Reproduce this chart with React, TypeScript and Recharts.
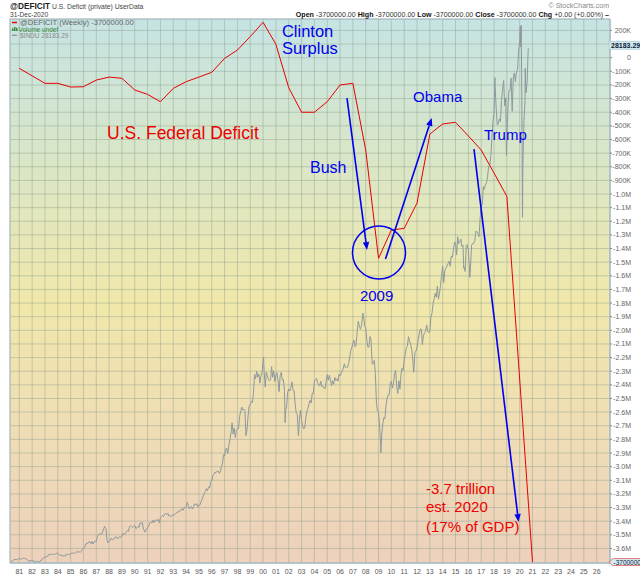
import React from 'react';
import {
  LineChart,
  Line,
  XAxis,
  YAxis,
  CartesianGrid,
  ReferenceLine,
  ReferenceDot,
  ReferenceArea,
} from 'recharts';

const FONT = '"Liberation Sans", Arial, sans-serif';
const BLUE = '#0000ee';
const RED = '#ee0000';

const X_MIN = 1980.275;
const X_MAX = 2027.04;
const Y_MIN = -3707000;
const Y_MAX = 284000;
const DOW_MIN = 750;
const DOW_MAX = 29740;

// x-axis ticks (years)
const yearTicks = [
  1981, 1982, 1983, 1984, 1985, 1986, 1987, 1988, 1989, 1990, 1991, 1992, 1993, 1994, 1995, 1996,
  1997, 1998, 1999, 2000, 2001, 2002, 2003, 2004, 2005, 2006, 2007, 2008, 2009, 2010, 2011, 2012,
  2013, 2014, 2015, 2016, 2017, 2018, 2019, 2020, 2021, 2022, 2023, 2024, 2025, 2026,
];

// right axis ticks every 100K
const deficitTicks = Array.from({ length: 39 }, (_, i) => 200000 - i * 100000);

// @DEFICIT annual values (millions $)
const deficitYears = [
  1981, 1982, 1983, 1984, 1985, 1986, 1987, 1988, 1989, 1990, 1991, 1992, 1993, 1994, 1995, 1996,
  1997, 1998, 1999, 2000, 2001, 2002, 2003, 2004, 2005, 2006, 2007, 2008, 2009, 2010, 2011, 2012,
  2013, 2014, 2015, 2016, 2017, 2018, 2019, 2021,
];
const deficitValues = [
  -78000, -133000, -188000, -188000, -215000, -213000, -164000, -142000, -151000, -237000, -269000,
  -323000, -225000, -176000, -142000, -107000, -5000, 56000, 155000, 260000, 98000, -220000,
  -400000, -400000, -323000, -200000, -188000, -677000, -1472000, -1264000, -1252000, -1066000,
  -560000, -486000, -474000, -574000, -677000, -846000, -1017000, -3700000,
];

// $INDU monthly closes
const dow1980s = [
  817, 851, 868, 935, 933, 932, 925, 993, 964,
  947, 974, 1004, 998, 992, 977, 952, 882, 850, 853, 889, 875,
  871, 824, 823, 848, 820, 812, 809, 901, 896, 992, 1039, 1047,
  1076, 1113, 1130, 1226, 1200, 1222, 1199, 1216, 1233, 1225, 1276, 1259,
  1220, 1155, 1165, 1171, 1105, 1132, 1115, 1224, 1207, 1207, 1189, 1212,
  1287, 1284, 1267, 1258, 1315, 1336, 1348, 1334, 1329, 1374, 1472, 1547,
  1571, 1709, 1819, 1784, 1877, 1893, 1775, 1898, 1768, 1878, 1914, 1896,
  2158, 2224, 2305, 2286, 2292, 2419, 2572, 2663, 2596, 1994, 1834, 1939,
  1958, 2072, 1989, 2032, 2031, 2142, 2129, 2032, 2113, 2149, 2115, 2169,
  2342, 2258, 2294, 2419, 2480, 2440, 2661, 2737, 2693, 2645, 2706, 2753,
];
const dow1990s = [
  2591, 2627, 2707, 2657, 2877, 2881, 2905, 2614, 2453, 2442, 2560, 2634,
  2736, 2882, 2914, 2888, 3028, 2907, 3025, 3044, 3017, 3069, 2895, 3169,
  3223, 3267, 3236, 3359, 3397, 3319, 3394, 3257, 3272, 3226, 3306, 3301,
  3310, 3371, 3435, 3428, 3527, 3516, 3540, 3651, 3555, 3681, 3684, 3754,
  3978, 3832, 3636, 3682, 3758, 3625, 3765, 3913, 3843, 3908, 3739, 3834,
  3844, 4011, 4158, 4321, 4465, 4556, 4709, 4611, 4789, 4756, 5075, 5117,
  5395, 5486, 5588, 5569, 5643, 5655, 5529, 5616, 5882, 6029, 6522, 6448,
  6813, 6877, 6584, 7009, 7331, 7673, 8223, 7622, 7945, 7442, 7823, 7908,
  7907, 8546, 8800, 9063, 8900, 8952, 8883, 7539, 7843, 8592, 9117, 9181,
  9359, 9307, 9786, 10789, 10560, 10971, 10655, 10829, 10337, 10730, 10878, 11497,
];
const dow2000s = [
  10941, 10128, 10922, 10734, 10522, 10448, 10522, 11215, 10651, 10971, 10415, 10787,
  10887, 10495, 9879, 10735, 10912, 10502, 10523, 9950, 8848, 9075, 9852, 10022,
  9920, 10106, 10404, 9946, 9925, 9243, 8737, 8664, 7592, 8397, 8896, 8342,
  8054, 7891, 7992, 8480, 8850, 8985, 9234, 9416, 9275, 9801, 9782, 10454,
  10488, 10584, 10358, 10226, 10188, 10435, 10140, 10174, 10080, 10027, 10428, 10783,
  10490, 10766, 10504, 10193, 10467, 10275, 10641, 10482, 10569, 10440, 10806, 10718,
  10865, 10993, 11109, 11367, 11168, 11150, 11186, 11381, 11679, 12081, 12222, 12463,
  12622, 12269, 12354, 13063, 13628, 13409, 13212, 13358, 13896, 13930, 13372, 13265,
  12650, 12266, 12263, 12820, 12638, 11350, 11378, 11544, 10851, 9325, 8829, 8776,
  8001, 7063, 7609, 8168, 8500, 8447, 9172, 9496, 9712, 9713, 10345, 10428,
];
const dow2010s = [
  10067, 10325, 10857, 11009, 10137, 9774, 10466, 10015, 10788, 11118, 11006, 11578,
  11892, 12226, 12320, 12811, 12570, 12414, 12143, 11614, 10913, 11955, 12046, 12218,
  12633, 12952, 13212, 13214, 12393, 12880, 13009, 13091, 13437, 13096, 13026, 13104,
  13861, 14054, 14579, 14840, 15116, 14910, 15500, 14810, 15130, 15546, 16086, 16577,
  15699, 16322, 16458, 16581, 16717, 16827, 16563, 17098, 17043, 17391, 17828, 17823,
  17165, 18133, 17776, 17841, 18011, 17620, 17690, 16528, 16285, 17664, 17720, 17425,
  16466, 16517, 17685, 17774, 17787, 17930, 18432, 18401, 18308, 18142, 19124, 19763,
  19864, 20812, 20663, 20941, 21009, 21350, 21891, 21948, 22405, 23377, 24272, 24719,
  26149, 25029, 24103, 24163, 24416, 24271, 25415, 25965, 26458, 25116, 25538, 23327,
  24999, 25916, 25929, 26593, 24815, 26600, 26864, 26403, 26917, 27046, 28051, 28538,
];
const dow2020 = [28256, 25409, 21917, 24346, 25383, 25813, 26428, 28183.29];

// weekly extremes visible in the picture
const dowExtremeDates = [
  1987.65, 1990.78, 2000.04, 2001.72, 2002.76, 2007.78, 2009.18, 2011.74, 2015.64, 2016.11,
  2018.07, 2018.97, 2020.045, 2020.12, 2020.22, 2020.43,
];
const dowExtremeValues = [
  2709, 2398, 11723, 8236, 7528, 14066, 6627, 10913, 16460, 15974, 26616, 22445, 29348, 29398,
  19174, 27111,
];

const monthly = (startYear: number, startMonth: number, values: number[]) =>
  values.map((v, i) => ({ x: startYear + (startMonth + i + 1) / 12, v }));

const dowData = [
  ...monthly(1980, 3, dow1980s),
  ...monthly(1990, 0, dow1990s),
  ...monthly(2000, 0, dow2000s),
  ...monthly(2010, 0, dow2010s),
  ...monthly(2020, 0, dow2020),
  ...dowExtremeDates.map((x, i) => ({ x, v: dowExtremeValues[i] })),
].sort((a, b) => a.x - b.x);

const deficitData = deficitYears.map((x, i) => ({ x, v: deficitValues[i] }));

// annotations (data coordinates)
const notes = [
  { x: 2001.47, y: 196000, text: 'Clinton', color: BLUE, size: 16.5 },
  { x: 2001.47, y: 71000, text: 'Surplus', color: BLUE, size: 16.5 },
  { x: 2011.69, y: -281000, text: 'Obama', color: BLUE, size: 15 },
  { x: 2017.22, y: -567000, text: 'Trump', color: BLUE, size: 15 },
  { x: 2003.66, y: -809000, text: 'Bush', color: BLUE, size: 16 },
  { x: 2007.55, y: -1748000, text: '2009', color: BLUE, size: 15 },
  { x: 1987.84, y: -552000, text: 'U.S. Federal Deficit', color: RED, size: 17.5 },
  { x: 2012.7, y: -3157000, text: '-3.7 trillion', color: RED, size: 15 },
  { x: 2012.7, y: -3296000, text: 'est. 2020', color: RED, size: 15 },
  { x: 2012.7, y: -3436000, text: '(17% of GDP)', color: RED, size: 15 },
];

const arrows = [
  { x1: 2006.54, y1: -296000, x2: 2008.1, y2: -1411000 },
  { x1: 2009.54, y1: -1477000, x2: 2013.145, y2: -442000 },
  { x1: 2016.44, y1: -670000, x2: 2019.91, y2: -3406000 },
];

const fmtDeficit = (v: number) => {
  if (v === 0) return '0';
  if (v === 100000) return '';
  if (Math.abs(v) < 1000000) return `${v / 1000}K`;
  return `${(v / 1000000).toFixed(1)}M`;
};

const ArrowShape = (props: any) => {
  const x1 = Number(props.x1);
  const y1 = Number(props.y1);
  const x2 = Number(props.x2);
  const y2 = Number(props.y2);
  const ang = Math.atan2(y2 - y1, x2 - x1);
  const L = 8;
  const W = 3.2;
  const bx = x2 - L * Math.cos(ang);
  const by = y2 - L * Math.sin(ang);
  const px = -Math.sin(ang) * W;
  const py = Math.cos(ang) * W;
  return (
    <g>
      <line x1={x1} y1={y1} x2={bx} y2={by} stroke={BLUE} strokeWidth={1.6} />
      <polygon points={`${x2},${y2} ${bx + px},${by + py} ${bx - px},${by - py}`} fill={BLUE} />
    </g>
  );
};

const XTick = (props: any) => {
  const { x, y, payload } = props;
  const s = String(payload.value % 100).padStart(2, '0');
  return (
    <text x={x} y={y + 8.7} textAnchor="middle" dominantBaseline="central" fontSize={7} fill="#555" fontFamily={FONT}>
      {s}
    </text>
  );
};

const YTick = (props: any) => {
  const { y, payload } = props;
  return (
    <text x={631} y={y} textAnchor="end" dominantBaseline="central" fontSize={7} fill="#666" fontFamily={FONT}>
      {fmtDeficit(payload.value)}
    </text>
  );
};

export default function App() {
  return (
    <div style={{ position: 'absolute', left: 0, top: 0, width: 640, height: 576, background: '#fff', overflow: 'hidden' }}>
      <div
        style={{
          position: 'absolute',
          left: 10,
          top: 19,
          width: 600,
          height: 544,
          background:
            'linear-gradient(to bottom, #c6e4e4 0%, #d8e6c9 24%, #f1e8aa 52%, #efdcb6 78%, #edd1bc 100%)',
        }}
      />
      <div style={{ position: 'absolute', left: 0, top: 0 }}>
        <LineChart width={640} height={576} margin={{ top: 19, right: 0, left: 10, bottom: 0 }}>
          <CartesianGrid yAxisId="def" stroke="#8fa08f" strokeOpacity={0.45} strokeWidth={1} />
          <XAxis
            dataKey="x"
            type="number"
            domain={[X_MIN, X_MAX]}
            allowDataOverflow
            ticks={yearTicks}
            interval={0}
            height={13}
            tickSize={0}
            tickMargin={0}
            tickLine={false}
            axisLine={{ stroke: '#a8bcc4' }}
            tick={<XTick />}
          />
          <YAxis
            yAxisId="def"
            orientation="right"
            domain={[Y_MIN, Y_MAX]}
            allowDataOverflow
            ticks={deficitTicks}
            interval={0}
            width={30}
            tickSize={2}
            tickMargin={0}
            tickLine={{ stroke: '#888' }}
            axisLine={{ stroke: '#a8bcc4' }}
            tick={<YTick />}
          />
          <YAxis yAxisId="dow" hide domain={[DOW_MIN, DOW_MAX]} allowDataOverflow />
          <Line
            yAxisId="dow"
            data={dowData}
            dataKey="v"
            type="linear"
            stroke="#8e999e"
            strokeWidth={1}
            dot={false}
            isAnimationActive={false}
          />
          <Line
            yAxisId="def"
            data={deficitData}
            dataKey="v"
            type="linear"
            stroke="#e60000"
            strokeWidth={1}
            dot={false}
            isAnimationActive={false}
          />
          <ReferenceArea
            yAxisId="def"
            x1={X_MIN}
            x2={X_MAX}
            y1={Y_MIN}
            y2={Y_MAX}
            fill="none"
            stroke="#a8bcc4"
            strokeWidth={1}
          />
          {arrows.map((a, i) => (
            <ReferenceLine
              key={`arrow-${i}`}
              yAxisId="def"
              segment={[
                { x: a.x1, y: a.y1 },
                { x: a.x2, y: a.y2 },
              ]}
              shape={ArrowShape}
            />
          ))}
          <ReferenceDot
            yAxisId="def"
            x={2009.036}
            y={-1429000}
            r={26.5}
            fill="none"
            stroke={BLUE}
            strokeWidth={1.5}
          />
          {notes.map((n, i) => (
            <ReferenceDot
              key={`note-${i}`}
              yAxisId="def"
              x={n.x}
              y={n.y}
              r={1}
              shape={(p: any) => (
                <text
                  x={p.cx}
                  y={p.cy}
                  dominantBaseline="central"
                  fontSize={n.size}
                  fill={n.color}
                  fontFamily={FONT}
                >
                  {n.text}
                </text>
              )}
            />
          ))}
          <ReferenceDot
            yAxisId="dow"
            x={X_MAX}
            y={28183.29}
            r={1}
            ifOverflow="visible"
            shape={(p: any) => (
              <g>
                <rect x={p.cx - 1} y={p.cy - 7} width={32} height={8} fill="#cfe8f0" stroke="#9fc0cc" strokeWidth={0.6} />
                <text x={p.cx + 1} y={p.cy - 3} dominantBaseline="central" fontSize={7} fontWeight="bold" fill="#102030" fontFamily={FONT}>
                  28183.29
                </text>
              </g>
            )}
          />
          <ReferenceDot
            yAxisId="def"
            x={X_MAX}
            y={-3700000}
            r={1}
            ifOverflow="visible"
            shape={(p: any) => (
              <g>
                <path
                  d={`M${p.cx - 1},${p.cy} L${p.cx + 3},${p.cy - 3.5} L${p.cx + 40},${p.cy - 3.5} L${p.cx + 40},${p.cy + 3.5} L${p.cx + 3},${p.cy + 3.5} Z`}
                  fill="#d4ecf4"
                  stroke="#e05a5a"
                  strokeWidth={0.8}
                />
                <text x={p.cx + 3.5} y={p.cy} dominantBaseline="central" fontSize={6.5} fill="#102040" fontFamily={FONT}>
                  -3700000
                </text>
              </g>
            )}
          />
        </LineChart>
      </div>
      <svg
        width={640}
        height={576}
        style={{ position: 'absolute', left: 0, top: 0, pointerEvents: 'none' }}
        fontFamily={FONT}
      >
        <text x={10} y={6} dominantBaseline="central" fontSize={9} fontWeight="bold" fill="#222" textLength={40} lengthAdjust="spacingAndGlyphs">
          @DEFICIT
        </text>
        <text x={52} y={6.5} dominantBaseline="central" fontSize={6.8} fill="#444">
          U.S. Deficit (private) UserData
        </text>
        <text x={10} y={14.7} dominantBaseline="central" fontSize={6.6} fill="#444">
          31-Dec-2020
        </text>
        <text x={609} y={5.5} textAnchor="end" dominantBaseline="central" fontSize={7} fill="#888">
          © StockCharts.com
        </text>
        <text x={609} y={14.7} textAnchor="end" dominantBaseline="central" fontSize={7.1} fill="#333">
          <tspan fontWeight="bold" fill="#111">Open</tspan>
          <tspan> -3700000.00 </tspan>
          <tspan fontWeight="bold" fill="#111">High</tspan>
          <tspan> -3700000.00 </tspan>
          <tspan fontWeight="bold" fill="#111">Low</tspan>
          <tspan> -3700000.00 </tspan>
          <tspan fontWeight="bold" fill="#111">Close</tspan>
          <tspan> -3700000.00 </tspan>
          <tspan fontWeight="bold" fill="#111">Chg</tspan>
          <tspan> +0.00 (+0.00%) </tspan>
          <tspan fontWeight="bold" fill="#111">–</tspan>
        </text>
        <line x1={12} y1={22.5} x2={17} y2={22.5} stroke={RED} strokeWidth={1.5} />
        <text x={20} y={22.5} dominantBaseline="central" fontSize={7.6} fill="#666">
          @DEFICIT (Weekly) -3700000.00
        </text>
        <rect x={12} y={28.3} width={1.5} height={2.7} fill="#3d8a3d" />
        <rect x={14} y={27} width={1.5} height={4} fill="#3d8a3d" />
        <rect x={16} y={27.8} width={1.5} height={3.2} fill="#3d8a3d" />
        <text x={18.5} y={29.1} dominantBaseline="central" fontSize={6.5} fill="#3d8a3d">
          Volume undef
        </text>
        <line x1={12} y1={35.3} x2={17} y2={35.3} stroke="#999" strokeWidth={1.5} />
        <text x={20} y={35.3} dominantBaseline="central" fontSize={6.5} fill="#888">
          $INDU 28183.29
        </text>
      </svg>
    </div>
  );
}
